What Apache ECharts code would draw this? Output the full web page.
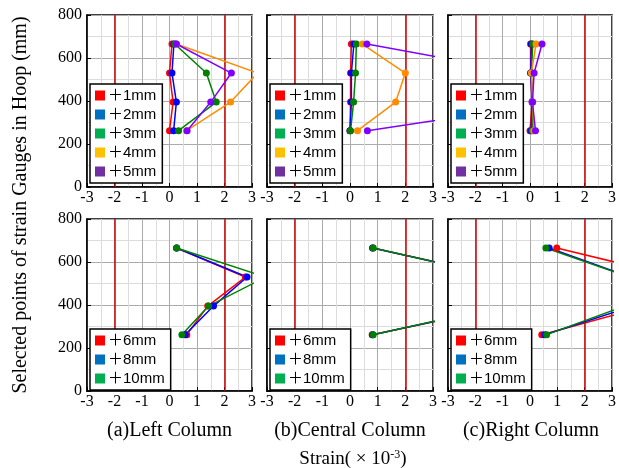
<!DOCTYPE html>
<html><head><meta charset="utf-8">
<script src="https://cdn.jsdelivr.net/npm/echarts@6/dist/echarts.min.js"></script>
<style>html,body{margin:0;padding:0;background:#fff}#c{width:619px;height:468px}</style>
</head><body><div id="c"></div>
<script>
// ---- data ----
const heights = [665, 530, 395, 262];            // gauge heights (mm)
const topNames = ['＋1mm', '＋2mm', '＋3mm', '＋4mm', '＋5mm'];
const bottomNames = ['＋6mm', '＋8mm', '＋10mm'];
const xTicks = [-3, -2, -1, 0, 1, 2, 3];
const yTicks = [0, 200, 400, 600, 800];
const limitStrain = [-2, 2];

// strain values (x1e-3) at each height, top row
const leftTop = [
  [0.09, 0.00, 0.13, 0.00],
  [0.16, 0.09, 0.25, 0.15],
  [0.19, 1.34, 1.70, 0.33],
  [0.25, 3.20, 2.22, 0.62],
  [0.25, 2.25, 1.50, 0.64]
];
const centralTop = [
  [0.05, 0.02, 0.02, 0.00],
  [0.14, 0.05, 0.05, 0.00],
  [0.23, 0.20, 0.13, 0.02],
  [0.45, 2.00, 1.65, 0.27],
  [0.61, 6.30, 7.50, 0.63]
];
const rightTop = [
  [0.02, 0.02, 0.08, 0.00],
  [0.05, 0.03, 0.08, 0.04],
  [0.10, 0.05, 0.09, 0.08],
  [0.22, 0.05, 0.10, 0.14],
  [0.44, 0.15, 0.09, 0.20]
];
// bottom row
const leftBottom = [
  [0.26, 2.76, 1.39, 0.63],
  [0.26, 2.82, 1.60, 0.57],
  [0.26, 3.50, 1.42, 0.45]
];
const centralBottom = [
  [0.82, 5.60, 5.70, 0.80],
  [0.82, 5.50, 5.60, 0.82],
  [0.84, 5.45, 5.50, 0.84]
];
const rightBottom = [
  [0.98, 5.37, 4.26, 0.43],
  [0.70, 3.65, 3.76, 0.54],
  [0.58, 3.62, 3.47, 0.61]
];

const captions = ['(a)Left Column', '(b)Central Column', '(c)Right Column'];
const yTitle = 'Selected points of strain Gauges in Hoop (mm)';

// ---- styles ----
const lineColorsTop = ['#ff0000', '#0000ff', '#008000', '#ff8c00', '#8000ff'];
const lineColorsBottom = ['#ff0000', '#0000ff', '#008000'];
const legColorsTop = ['#ff0000', '#0070c0', '#00b050', '#ffc000', '#7030a0'];
const legColorsBottom = ['#ff0000', '#0070c0', '#00b050'];

const colLeft = [87, 267, 448];
const colWidth = [165, 166, 166];
const rowTop = [15, 219];
const rowHeight = 172;
const serif = 'Liberation Serif, Times New Roman, serif';
const sans = 'Liberation Sans, Noto Sans CJK SC, sans-serif';

const grids = [], xAxes = [], yAxes = [], series = [], legends = [];
const panels = [
  [leftTop, centralTop, rightTop],
  [leftBottom, centralBottom, rightBottom]
];

let gi = 0;
for (let r = 0; r < 2; r++) {
  for (let c = 0; c < 3; c++) {
    grids.push({left: colLeft[c], top: rowTop[r], width: colWidth[c], height: rowHeight,
      show: true, borderColor: '#000', borderWidth: 1.5, backgroundColor: '#fff'});
    xAxes.push({gridIndex: gi, type: 'value', min: xTicks[0], max: xTicks[xTicks.length - 1], interval: 1,
      axisLine: {show: true, onZero: false, lineStyle: {color: '#000', width: 1.5}},
      axisTick: {show: true, inside: true, length: 4, lineStyle: {color: '#000'}},
      axisLabel: {show: true, margin: 3, fontFamily: serif, fontSize: 16, color: '#000',
        formatter: v => String(v)},
      splitLine: {show: true, lineStyle: {color: '#ababab', width: 1}},
      minorTick: {show: false, splitNumber: 2},
      minorSplitLine: {show: true, lineStyle: {color: '#dcdcdc', width: 1}}
    });
    yAxes.push({gridIndex: gi, type: 'value', min: yTicks[0], max: yTicks[yTicks.length - 1], interval: 200,
      axisLine: {show: true, onZero: false, lineStyle: {color: '#000', width: 1.5}},
      axisTick: {show: true, inside: true, length: 4, lineStyle: {color: '#000'}},
      axisLabel: {show: c === 0, margin: 5, fontFamily: serif, fontSize: 16, color: '#000'},
      splitLine: {show: true, lineStyle: {color: '#ababab', width: 1}},
      minorTick: {show: false, splitNumber: 2},
      minorSplitLine: {show: true, lineStyle: {color: '#dcdcdc', width: 1}}
    });
    const names = r === 0 ? topNames : bottomNames;
    const lcols = r === 0 ? lineColorsTop : lineColorsBottom;
    const gcols = r === 0 ? legColorsTop : legColorsBottom;
    const vals = panels[r][c];
    vals.forEach((arr, k) => {
      const s = {
        name: names[k], type: 'line', xAxisIndex: gi, yAxisIndex: gi,
        data: arr.map((x, i) => [x, heights[i]]),
        symbol: 'circle', symbolSize: 7, clip: true, z: 5,
        lineStyle: {color: lcols[k], width: 1.5},
        itemStyle: {color: lcols[k]},
        emphasis: {disabled: true}, animation: false
      };
      if (k === 0) {
        s.markLine = {silent: true, symbol: 'none', animation: false,
          label: {show: false},
          lineStyle: {color: '#d00000', width: 1.5, type: 'solid'},
          data: limitStrain.map(v => ({xAxis: v}))};
      }
      series.push(s);
    });
    legends.push({
      data: names.map((n, k) => ({name: n, itemStyle: {color: gcols[k]}})),
      orient: 'vertical',
      left: colLeft[c] + 3,
      top: r === 0 ? rowTop[r] + 69 : rowTop[r] + 110,
      backgroundColor: '#fff', borderColor: '#000', borderWidth: 1.5, borderRadius: 0,
      padding: [4, 6, 4, 5], itemGap: 4, itemWidth: 10, itemHeight: 10,
      icon: 'rect', selectedMode: false, z: 10,
      textStyle: {fontFamily: sans, fontSize: 15, color: '#000', padding: [0, 0, 0, -2]}
    });
    gi++;
  }
}

const graphics = captions.map((t, c) => ({
  type: 'text', x: colLeft[c] + colWidth[c] / 2, y: 431,
  style: {text: t, fontFamily: serif, fontSize: 20, fill: '#000', align: 'center', verticalAlign: 'middle'}
}));
graphics.push({
  type: 'text', x: 21, y: 205, rotation: Math.PI / 2,
  style: {text: yTitle, fontFamily: serif, fontSize: 20, fill: '#000', align: 'center', verticalAlign: 'middle'}
});
graphics.push({
  type: 'text', x: 353, y: 459,
  style: {
    align: 'center', verticalAlign: 'middle',
    rich: {
      n: {fontFamily: serif, fontSize: 19, fill: '#000'},
      s: {fontFamily: serif, fontSize: 12, fill: '#000', verticalAlign: 'top', padding: [0, 0, 8, 0]}
    },
    text: '{n|Strain( × 10}{s|-3}{n|)}'
  }
});

const chart = echarts.init(document.getElementById('c'), null, {renderer: 'canvas'});
chart.setOption({
  animation: false,
  grid: grids, xAxis: xAxes, yAxis: yAxes, series: series, legend: legends,
  graphic: graphics
});
</script></body></html>
